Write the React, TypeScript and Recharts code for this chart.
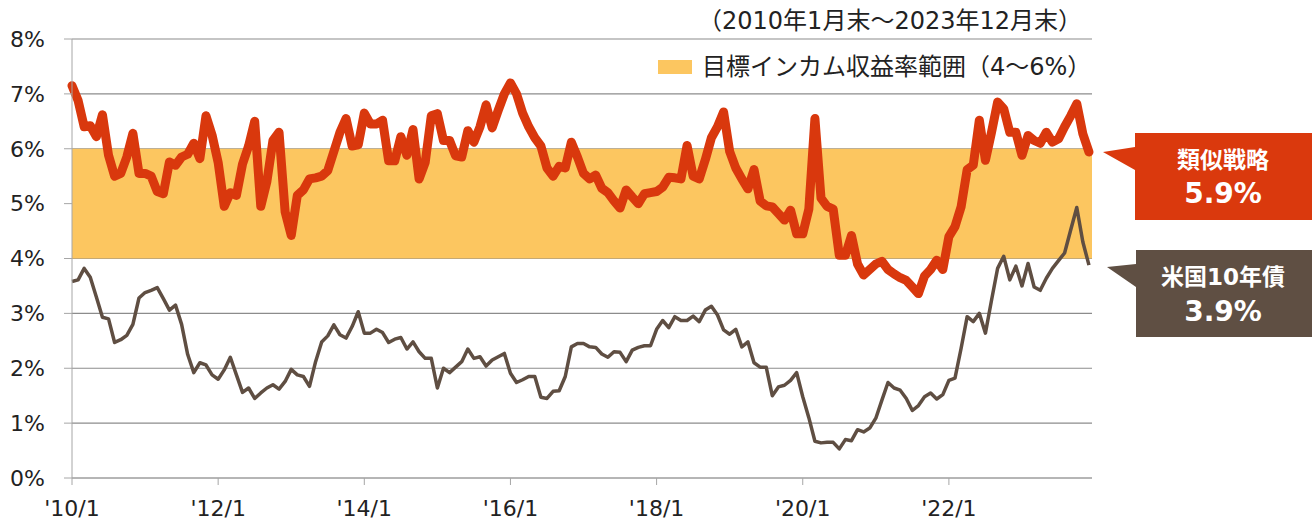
import { ComposedChart, Line, XAxis, YAxis, CartesianGrid, ReferenceArea } from "recharts";

const FONT = "'DejaVu Sans', 'Noto Sans CJK JP', sans-serif";

// month index 0 = 2010/1 ... 167 = 2023/12
const X_TICKS = [0, 24, 48, 72, 96, 120, 144];
const X_TICK_LABELS = ["'10/1", "'12/1", "'14/1", "'16/1", "'18/1", "'20/1", "'22/1"];
const Y_TICKS = [0, 1, 2, 3, 4, 5, 6, 7, 8];
const TARGET_RANGE = [4, 6];

const STRATEGY = [
  7.15, 6.88, 6.4, 6.42, 6.22, 6.62, 5.88, 5.5, 5.55, 5.85, 6.28, 5.55,
  5.55, 5.5, 5.22, 5.18, 5.76, 5.7, 5.85, 5.9, 6.1, 5.82, 6.6, 6.25,
  5.75, 4.95, 5.2, 5.15, 5.72, 6.05, 6.5, 4.95, 5.4, 6.15, 6.3, 4.85,
  4.42, 5.15, 5.25, 5.45, 5.47, 5.5, 5.6, 5.95, 6.3, 6.55, 6.05, 6.07,
  6.65, 6.45, 6.45, 6.52, 5.78, 5.78, 6.22, 5.88, 6.35, 5.45, 5.75, 6.6,
  6.64, 6.15, 6.15, 5.87, 5.85, 6.33, 6.12, 6.4, 6.8, 6.38, 6.7, 7.0,
  7.2, 7.0, 6.65, 6.4, 6.2, 6.05, 5.65, 5.5, 5.68, 5.65, 6.12, 5.85,
  5.55, 5.45, 5.52, 5.28, 5.2, 5.05, 4.92, 5.25, 5.12, 5.0, 5.18, 5.2,
  5.22, 5.3, 5.48, 5.47, 5.45, 6.06, 5.5, 5.45, 5.8, 6.2, 6.4, 6.67,
  5.95, 5.65, 5.45, 5.27, 5.62, 5.05, 4.96, 4.94, 4.82, 4.7, 4.88, 4.45,
  4.45, 4.9, 6.55, 5.1, 4.95, 4.9, 4.06, 4.06, 4.42, 3.9, 3.7, 3.8,
  3.9, 3.95, 3.8, 3.72, 3.65, 3.6, 3.48, 3.36, 3.68, 3.8, 3.97, 3.8,
  4.4, 4.58, 4.94, 5.62, 5.7, 6.52, 5.79, 6.3, 6.85, 6.73, 6.3, 6.3,
  5.88, 6.24, 6.15, 6.1, 6.3, 6.12, 6.18, 6.4, 6.6, 6.82, 6.27, 5.94,
];

const UST10Y = [
  3.58, 3.61, 3.82, 3.66, 3.3, 2.93, 2.9, 2.47, 2.52, 2.6, 2.8, 3.28,
  3.38, 3.42, 3.47, 3.27, 3.06, 3.15, 2.8, 2.25, 1.92, 2.1, 2.06, 1.88,
  1.8, 1.97, 2.2, 1.88, 1.56, 1.64, 1.45, 1.55, 1.64, 1.7, 1.62, 1.76,
  1.98, 1.88, 1.85, 1.67, 2.12, 2.48, 2.59, 2.79, 2.61, 2.55, 2.76, 3.03,
  2.64, 2.64, 2.71, 2.65, 2.47, 2.53, 2.56, 2.35, 2.48, 2.3, 2.18, 2.18,
  1.64, 2.0, 1.92, 2.02, 2.12, 2.35, 2.18, 2.21, 2.04, 2.15, 2.21, 2.27,
  1.91, 1.74, 1.79, 1.85, 1.85, 1.47, 1.45, 1.58, 1.59, 1.85, 2.39, 2.45,
  2.45, 2.39, 2.38, 2.26, 2.2, 2.3, 2.29, 2.12, 2.33, 2.38, 2.41, 2.41,
  2.71, 2.87, 2.74, 2.94, 2.87, 2.87, 2.95, 2.85, 3.06, 3.13, 2.97, 2.7,
  2.62, 2.71, 2.39, 2.48, 2.1, 2.02, 2.02, 1.5, 1.66, 1.69, 1.78, 1.92,
  1.48, 1.1, 0.67, 0.64, 0.65, 0.65, 0.53, 0.7, 0.68, 0.88, 0.84, 0.91,
  1.09, 1.42, 1.74, 1.64, 1.6, 1.45, 1.23, 1.32, 1.48, 1.55, 1.44, 1.52,
  1.78, 1.82, 2.36, 2.94, 2.85, 3.0, 2.64, 3.24, 3.82, 4.04, 3.61, 3.86,
  3.5, 3.91, 3.48, 3.42, 3.64, 3.82, 3.96, 4.1, 4.52, 4.93, 4.3, 3.88,
];

const data = STRATEGY.map((v, i) => ({ m: i, strategy: v, ust: UST10Y[i] }));

const RED = "#D9380D";
const BROWN = "#5F4E42";
const BAND = "#FCC660";
const GRID = "#8C8C8C";
const AXIS = "#A6A6A6";

const lastStrategy = STRATEGY[STRATEGY.length - 1].toFixed(1) + "%";
const lastUst = UST10Y[UST10Y.length - 1].toFixed(1) + "%";

export default function App() {
  return (
    <div style={{ position: "absolute", left: 0, top: 0, width: 1316, height: 523, background: "#fff", fontFamily: FONT }}>
      <ComposedChart width={1316} height={523} data={data} margin={{ top: 39, right: 224, bottom: 0, left: 0 }}>
        <ReferenceArea y1={TARGET_RANGE[0]} y2={TARGET_RANGE[1]} fill={BAND} fillOpacity={1} stroke="none" />
        <CartesianGrid vertical={false} stroke={GRID} strokeWidth={1.2} />
        <XAxis
          type="number"
          dataKey="m"
          domain={[0, 167.5]}
          ticks={X_TICKS}
          interval={0}
          tickFormatter={(v: number) => X_TICK_LABELS[X_TICKS.indexOf(v)]}
          height={45}
          tickSize={7}
          tickMargin={15}
          axisLine={{ stroke: AXIS }}
          tickLine={{ stroke: AXIS }}
          tick={{ fill: "#222", fontSize: 22, fontFamily: FONT }}
        />
        <YAxis
          domain={[0, 8]}
          ticks={Y_TICKS}
          interval={0}
          tickFormatter={(v: number) => `${v}%`}
          width={72}
          tickSize={8}
          tickMargin={19}
          axisLine={{ stroke: AXIS }}
          tickLine={{ stroke: AXIS }}
          tick={{ fill: "#222", fontSize: 22, fontFamily: FONT }}
        />
        <Line type="linear" dataKey="ust" stroke={BROWN} strokeWidth={3.5} dot={false} strokeLinejoin="round" isAnimationActive={false} />
        <Line type="linear" dataKey="strategy" stroke={RED} strokeWidth={9} dot={false} strokeLinejoin="round" strokeLinecap="round" isAnimationActive={false} />
      </ComposedChart>

      <div style={{ position: "absolute", right: 234, top: 8, fontSize: 24, lineHeight: "26px", color: "#222", whiteSpace: "nowrap" }}>
        （2010年1月末～2023年12月末）
      </div>

      <div style={{ position: "absolute", left: 658, top: 60, width: 34, height: 14, background: BAND }} />
      <div style={{ position: "absolute", left: 702, top: 54, fontSize: 24, lineHeight: "26px", color: "#222", whiteSpace: "nowrap" }}>
        目標インカム収益率範囲（4～6%）
      </div>

      <svg width={1316} height={523} style={{ position: "absolute", left: 0, top: 0, pointerEvents: "none" }}>
        <polygon points="1135,133 1312,133 1312,220 1135,220 1135,170 1103,152 1135,147" fill="#DA390D" />
        <text x={1223} y={160} textAnchor="middle" dominantBaseline="central" fill="#fff" fontSize={23} fontWeight="bold" fontFamily={FONT}>
          類似戦略
        </text>
        <text x={1223} y={193} textAnchor="middle" dominantBaseline="central" fill="#fff" fontSize={28} fontWeight="bold" fontFamily={FONT}>
          {lastStrategy}
        </text>

        <polygon points="1136,250 1312,250 1312,337 1136,337 1136,287 1107,267 1136,264" fill="#5F4F43" />
        <text x={1223} y={277} textAnchor="middle" dominantBaseline="central" fill="#fff" fontSize={23} fontWeight="bold" fontFamily={FONT}>
          米国10年債
        </text>
        <text x={1223} y={311} textAnchor="middle" dominantBaseline="central" fill="#fff" fontSize={28} fontWeight="bold" fontFamily={FONT}>
          {lastUst}
        </text>
      </svg>
    </div>
  );
}
